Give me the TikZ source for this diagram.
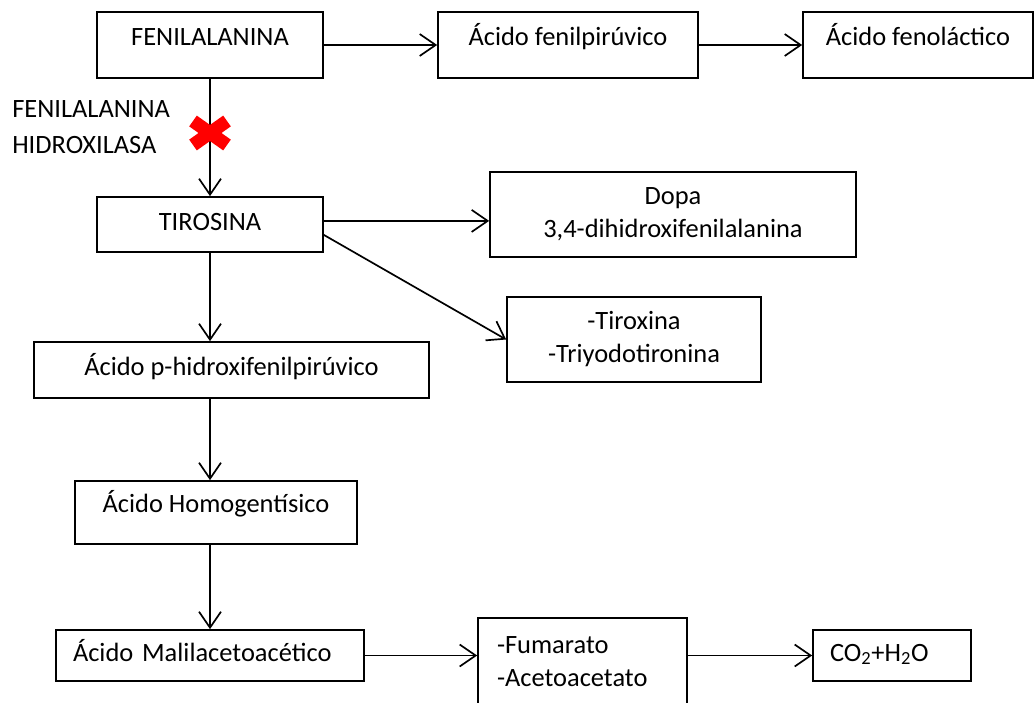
\documentclass[tikz,border=0pt]{standalone}
\usepackage{fontspec}
\setmainfont{Carlito}
\usepackage{tikz}
\usetikzlibrary{arrows.meta}
\tikzstyle{caja} = [rectangle, text centered, draw=black, fill=white, line width=1.2pt, inner sep=0pt, text height=12pt, text depth=4pt]
\tikzstyle{cajaalta} = [caja, text depth=12pt]
\tikzstyle{cajaizq} = [caja, align=left]
\tikzstyle{cajados} = [rectangle, draw=black, fill=white, line width=1.2pt, inner sep=0pt, align=center]
\tikzstyle{etiqueta} = [inner sep=0pt, align=left, font=\fontsize{18.8}{25.6}\selectfont]
\tikzstyle{flecha} = [line width=1.2pt,->,>={Straight Barb[length=4mm,width=5.5mm]}]
\tikzstyle{cruz} = [red, line width=3.3mm]

\begin{document}
\begin{tikzpicture}[node distance=3.6cm, font=\fontsize{18.8}{23.5}\selectfont]
                \useasboundingbox (0,0) rectangle (25.875,-17.55);

                \node (fen) [cajaalta, minimum width=5.65cm, minimum height=1.65cm] at (5.25,-1.125) {FENILALANINA};
                \node (fpir) [cajaalta, minimum width=6.5cm, minimum height=1.65cm, right of = fen, xshift=5.35cm] {Ácido fenilpirúvico};
                \node (flac) [cajaalta, minimum width=5.75cm, minimum height=1.65cm, right of = fpir, xshift=5.15cm] {Ácido fenoláctico};

                \node (enzima) [etiqueta, anchor=west] at (0.3,-3.17) {FENILALANINA\\HIDROXILASA};
                \coordinate (bloqueo) at (5.25,-3.325);

                \node (tir) [caja, minimum width=5.65cm, minimum height=1.375cm, below of = fen, yshift=-0.8875cm] {TIROSINA};

                \node (phid) [caja, minimum width=9.875cm, minimum height=1.4cm, below of = tir, xshift=0.5375cm, yshift=-0.0375cm] {Ácido p-hidroxifenilpirúvico};

                \node (homo) [cajaalta, minimum width=7.05cm, minimum height=1.575cm, below of = phid, xshift=-0.3875cm, yshift=0.0375cm] {Ácido Homogentísico};

                \node (mali) [cajaizq, minimum width=7.7cm, text width=6.85cm, minimum height=1.275cm, below of = homo, xshift=-0.15cm, yshift=0.025cm] {\mbox{Ácido Malilacetoacético}};

% ---------------------------------------------
% Right Division
% ---------------------------------------------
                \node (dopa) [cajados, minimum width=9.15cm, minimum height=2.125cm, right of = tir, xshift=7.975cm, yshift=0.25cm] {Dopa\\3,4-dihidroxifenilalanina};
                \node (tirox) [cajados, minimum width=6.35cm, minimum height=2.125cm, right of = tir, xshift=7cm, yshift=-2.875cm] {-Tiroxina\\-Triyodotironina};

                \node (fuma) [cajados, align=left, minimum width=5.225cm, text width=4.275cm, minimum height=2.2cm, right of = mali, xshift=5.7125cm, yshift=-0.1625cm] {-Fumarato\\-Acetoacetato};
                \node (co2) [cajaizq, minimum width=3.95cm, text width=3.1cm, minimum height=1.275cm, right of = fuma, xshift=4.1375cm, yshift=0.1625cm] {CO\textsubscript{2}+H\textsubscript{2}O};

% ---------------------------------------------
% All arrows
% ---------------------------------------------
                \draw [flecha] (fen) -- (fpir);
                \draw [flecha] (fpir) -- (flac);
                \draw [flecha] (fen) -- (tir);
                \draw [flecha] ([yshift=0.09cm]tir.east) -- ([yshift=0.09cm]tir.east -| dopa.west);
                \draw [flecha] ([yshift=-0.26cm]tir.east) -- (tirox.west);
                \draw [flecha] (tir.south) -- (tir.south |- phid.north);
                \draw [flecha] (tir.south |- phid.south) -- (tir.south |- homo.north);
                \draw [flecha] (tir.south |- homo.south) -- (mali.north);
                \draw [flecha] (mali.east) -- (mali.east -| fuma.west);
                \draw [flecha] (co2.west -| fuma.east) -- (co2.west);

                % enzyme block
                \draw [cruz] ([shift={(-0.425,0.3)}]bloqueo) -- ([shift={(0.425,-0.3)}]bloqueo);
                \draw [cruz] ([shift={(-0.425,-0.3)}]bloqueo) -- ([shift={(0.425,0.3)}]bloqueo);

            \end{tikzpicture}
\end{document}
